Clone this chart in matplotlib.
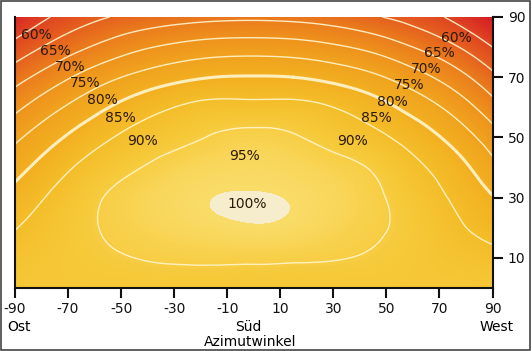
import numpy as np
import matplotlib
matplotlib.use("Agg")
import matplotlib.pyplot as plt
import matplotlib.tri as mtri
from matplotlib.colors import LinearSegmentedColormap

# Azimuth (deg) and tilt (deg) grid, yield in %
azimuth = [-90, -75, -60, -45, -30, -15, 0, 15, 30, 45, 60, 75, 90]
tilt = [0, 10, 20, 30, 40, 50, 60, 70, 80, 90]
yield_pct = [
    [93.5, 93.5, 93.5, 93.5, 93.5, 93.5, 93.5, 93.5, 93.5, 93.5, 93.5, 93.5, 93.5],
    [92.0, 93.3, 94.3, 95.0, 95.5, 95.7, 95.7, 95.5, 95.2, 94.6, 93.6, 92.4, 91.3],
    [89.8, 92.6, 94.8, 96.5, 97.9, 99.0, 99.6, 99.0, 97.3, 95.6, 93.8, 91.0, 88.3],
    [86.8, 91.0, 94.4, 96.8, 98.7, 100.0, 100.25, 99.7, 98.0, 95.8, 93.0, 89.5, 85.3],
    [83.2, 88.0, 92.0, 94.6, 96.8, 98.2, 98.7, 98.0, 96.5, 94.6, 91.2, 87.3, 81.5],
    [79.0, 84.0, 88.3, 91.5, 93.6, 95.4, 96.3, 95.4, 93.5, 91.3, 88.0, 83.5, 77.3],
    [73.8, 79.0, 83.5, 87.3, 90.0, 91.5, 91.5, 91.5, 90.0, 87.2, 83.3, 78.5, 72.0],
    [68.0, 73.0, 77.5, 81.0, 83.5, 85.0, 85.3, 85.0, 83.5, 81.0, 77.2, 72.5, 66.3],
    [61.7, 66.5, 70.5, 73.8, 76.0, 77.3, 77.6, 77.2, 75.8, 73.5, 70.0, 65.8, 60.0],
    [55.5, 60.5, 64.0, 66.3, 67.8, 68.7, 69.0, 68.6, 67.5, 65.5, 63.0, 59.0, 53.5],
]
levels = [60, 65, 70, 75, 80, 85, 90, 95]
thick_level = 85

x_ticks = [-90, -70, -50, -30, -10, 10, 30, 50, 70, 90]
y_ticks = [10, 30, 50, 70, 90]

# label texts and positions (azimuth, tilt)
labels = ["60%", "65%", "70%", "75%", "80%", "85%", "90%",
          "60%", "65%", "70%", "75%", "80%", "85%", "90%", "95%", "100%"]
label_az = [-81.8, -74.9, -69.3, -63.6, -57.2, -50.4, -42.1,
            76.3, 69.9, 65.0, 58.6, 52.1, 46.1, 37.4, -3.3, -2.5]
label_tilt = [84.0, 78.8, 73.5, 68.2, 62.6, 56.6, 48.7,
              83.1, 78.1, 72.8, 67.5, 61.9, 56.6, 48.7, 43.7, 27.8]

fig = plt.figure(figsize=(5.32, 3.51), dpi=100)
fig.patch.set_facecolor("white")
ax = fig.add_axes([15/532, 1 - 288/351, (492.5-15)/532, (288-17)/351])

A, T = np.meshgrid(azimuth, tilt)
Z = np.array(yield_pct)
tri = mtri.Triangulation(A.ravel(), T.ravel())
refiner = mtri.UniformTriRefiner(tri)
interp = mtri.CubicTriInterpolator(tri, Z.ravel(), kind="min_E")
tri_f, z_f = refiner.refine_field(Z.ravel(), triinterpolator=interp, subdiv=5)

vmin, vmax = 52.0, 100.0
stops = [(52, "#d0142a"), (56, "#d82a24"), (60, "#df4420"), (65, "#e5601e"),
         (70, "#ea7c1c"), (75, "#ee921c"), (80, "#f0a21e"), (85, "#f2ae20"),
         (90, "#f4bc28"), (94, "#f6c838"), (97, "#f8d452"), (100, "#f9dc68")]
cmap = LinearSegmentedColormap.from_list(
    "sun", [((v - vmin) / (vmax - vmin), c) for v, c in stops])
fill_levels = np.linspace(vmin, vmax, 120)
ax.tricontourf(tri_f, z_f, levels=fill_levels, cmap=cmap, extend="both")
ax.tricontourf(tri_f, z_f, levels=[100, 120], colors=["#f6edcc"])
lw = [2.2 if l == thick_level else 1.0 for l in levels]
ax.tricontour(tri_f, z_f, levels=levels, colors="#fff6cf", linewidths=lw, alpha=0.9)

for t, xa, ya in zip(labels, label_az, label_tilt):
    ax.text(xa, ya, t, ha="center", va="center", fontsize=10, color="#2a1a0a")

ax.set_xlim(-90, 90)
ax.set_ylim(0, 90)
ax.set_xticks(x_ticks)
ax.set_xticklabels([str(v) for v in x_ticks])
ax.set_yticks(y_ticks)
ax.yaxis.tick_right()
ax.tick_params(axis="both", direction="out", length=7, width=1.5, labelsize=10,
               colors="#111111", pad=4)
ax.tick_params(axis="x", pad=3)
for s in ["left", "bottom", "right"]:
    ax.spines[s].set_linewidth(1.5)
    ax.spines[s].set_color("#111111")
ax.spines["top"].set_visible(False)

fig.text(18.5/532, 1 - 327/351, "Ost", ha="center", va="center", fontsize=10)
fig.text(248/532, 1 - 327/351, "Süd", ha="center", va="center", fontsize=10)
fig.text(497/532, 1 - 327/351, "West", ha="center", va="center", fontsize=10)
fig.text(250/532, 1 - 342/351, "Azimutwinkel", ha="center", va="center", fontsize=10)

border = plt.Rectangle((0.002, 0.003), 0.995, 0.994, transform=fig.transFigure,
                       fill=False, edgecolor="#444444", linewidth=1.2)
fig.patches.append(border)

fig.savefig("out.png", dpi=100)
